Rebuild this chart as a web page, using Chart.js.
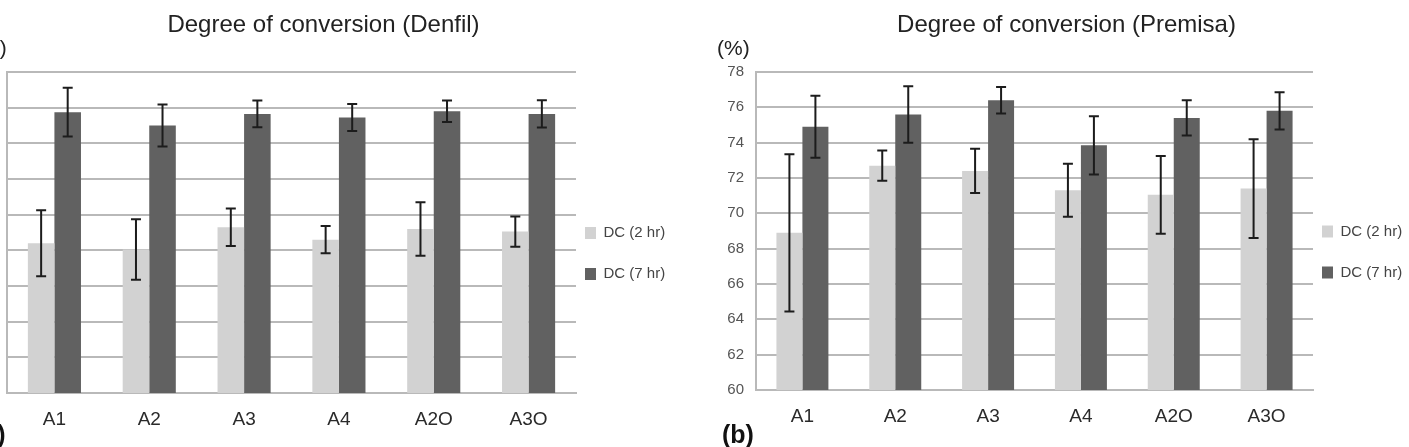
<!DOCTYPE html>
<html>
<head>
<meta charset="utf-8">
<script src="https://cdn.jsdelivr.net/npm/chart.js@4"></script>
<style>
    html, body {
        margin: 0;
        padding: 0;
        width: 1409px;
        height: 447px;
        overflow: hidden;
        background: #ffffff;
        font-family: "Liberation Sans", Arial, sans-serif;
    }
    .panel {
        position: absolute;
        top: 0;
    }
    .unit {
        position: absolute;
        font-size: 21px;
        line-height: 1;
        color: #222;
    }
    .letter {
        position: absolute;
        font-size: 25px;
        font-weight: bold;
        line-height: 1;
        color: #111;
    }
</style>
</head>
<body>
<div class="panel" id="panel-a" style="left:-49px;width:721px;height:450px;">
    <canvas id="chart-denfil"></canvas>
</div>
<div class="unit" style="left:-26px;top:37px;">(%)</div>
<div class="letter" style="left:-25px;top:422px;">(a)</div>

<div class="panel" id="panel-b" style="left:700px;width:709px;height:447px;">
    <canvas id="chart-premisa"></canvas>
</div>
<div class="unit" style="left:717px;top:37px;">(%)</div>
<div class="letter" style="left:722px;top:422px;">(b)</div>

<script>
const categories = ["A1", "A2", "A3", "A4", "A2O", "A3O"];
const seriesNames = ["DC (2 hr)", "DC (7 hr)"];
const yTicks = { min: 60, max: 78, step: 2 };

// Denfil
const denfil2h = [68.4, 68.05, 69.3, 68.6, 69.2, 69.05];
const denfil2hErr = [1.85, 1.7, 1.05, 0.77, 1.5, 0.85];
const denfil7h = [75.75, 75.0, 75.65, 75.45, 75.8, 75.65];
const denfil7hErr = [1.37, 1.18, 0.75, 0.76, 0.6, 0.76];

// Premisa
const premisa2h = [68.9, 72.7, 72.4, 71.3, 71.05, 71.4];
const premisa2hErr = [4.45, 0.85, 1.25, 1.5, 2.2, 2.8];
const premisa7h = [74.9, 75.6, 76.4, 73.85, 75.4, 75.8];
const premisa7hErr = [1.75, 1.6, 0.75, 1.65, 1.0, 1.05];

const lightGrey = "#d2d2d2";
const darkGrey = "#616161";
const gridGrey = "#b9b9b9";
const fontFamily = "'Liberation Sans', Arial, sans-serif";

// draws the +/- bars on top of each bar, using the chart's own y scale
const errorBars = {
    id: "errorBars",
    afterDatasetsDraw(chart) {
        const ctx = chart.ctx;
        const y = chart.scales.y;
        ctx.save();
        ctx.strokeStyle = "#1c1c1c";
        ctx.lineWidth = 2;
        chart.data.datasets.forEach((ds, d) => {
            const meta = chart.getDatasetMeta(d);
            meta.data.forEach((bar, i) => {
                const v = ds.data[i];
                const e = ds.errors[i];
                const top = y.getPixelForValue(v + e);
                const bottom = y.getPixelForValue(v - e);
                ctx.beginPath();
                ctx.moveTo(bar.x, top);
                ctx.lineTo(bar.x, bottom);
                ctx.moveTo(bar.x - 5, top);
                ctx.lineTo(bar.x + 5, top);
                ctx.moveTo(bar.x - 5, bottom);
                ctx.lineTo(bar.x + 5, bottom);
                ctx.stroke();
            });
        });
        ctx.restore();
    },
};

// move the legend closer to the plot and down a bit
const legendNudge = {
    id: "legendNudge",
    afterLayout(chart, args, opts) {
        const lg = chart.legend;
        if (!lg) return;
        lg.left += opts.dx;
        lg.top += opts.dy;
        lg.bottom += opts.dy;
    },
};

function makeChart(canvasId, title, series2h, err2h, series7h, err7h) {
    const ctx = document.getElementById(canvasId).getContext("2d");
    return new Chart(ctx, {
        type: "bar",
        data: {
            labels: categories,
            datasets: [
                {
                    label: seriesNames[0],
                    data: series2h,
                    errors: err2h,
                    backgroundColor: lightGrey,
                    borderWidth: 0,
                    categoryPercentage: 0.56,
                    barPercentage: 1.0,
                },
                {
                    label: seriesNames[1],
                    data: series7h,
                    errors: err7h,
                    backgroundColor: darkGrey,
                    borderWidth: 0,
                    categoryPercentage: 0.56,
                    barPercentage: 1.0,
                },
            ],
        },
        options: {
            responsive: true,
            maintainAspectRatio: false,
            animation: false,
            layout: {
                padding: { left: 24, right: 0, top: 0, bottom: 0 },
            },
            scales: {
                x: {
                    grid: { display: false },
                    border: { display: true, color: gridGrey, width: 2 },
                    ticks: {
                        color: "#2a2a2a",
                        font: { family: fontFamily, size: 19 },
                        padding: 7,
                        maxRotation: 0,
                        autoSkip: false,
                    },
                    afterFit(scale) {
                        scale.height = 57;
                    },
                },
                y: {
                    min: yTicks.min,
                    max: yTicks.max,
                    grid: { color: gridGrey, lineWidth: 2, drawTicks: false },
                    border: { display: true, color: gridGrey, width: 2 },
                    ticks: {
                        stepSize: yTicks.step,
                        color: "#555",
                        font: { family: fontFamily, size: 15 },
                        padding: 12,
                    },
                    afterFit(scale) {
                        scale.width = 32;
                    },
                },
            },
            plugins: {
                title: {
                    display: true,
                    text: title,
                    color: "#222",
                    font: { family: fontFamily, size: 24, weight: "normal" },
                    padding: { top: 11, bottom: 32.2 },
                },
                legend: {
                    position: "right",
                    fullSize: false,
                    maxWidth: 96,
                    labels: {
                        boxWidth: 11,
                        boxHeight: 12,
                        padding: 26,
                        color: "#444",
                        font: { family: fontFamily, size: 15 },
                    },
                },
                tooltip: { enabled: false },
                legendNudge: { dx: -17, dy: 21 },
            },
        },
        plugins: [errorBars, legendNudge],
    });
}

makeChart("chart-denfil", "Degree of conversion (Denfil)", denfil2h, denfil2hErr, denfil7h, denfil7hErr);
makeChart("chart-premisa", "Degree of conversion (Premisa)", premisa2h, premisa2hErr, premisa7h, premisa7hErr);
</script>
</body>
</html>
